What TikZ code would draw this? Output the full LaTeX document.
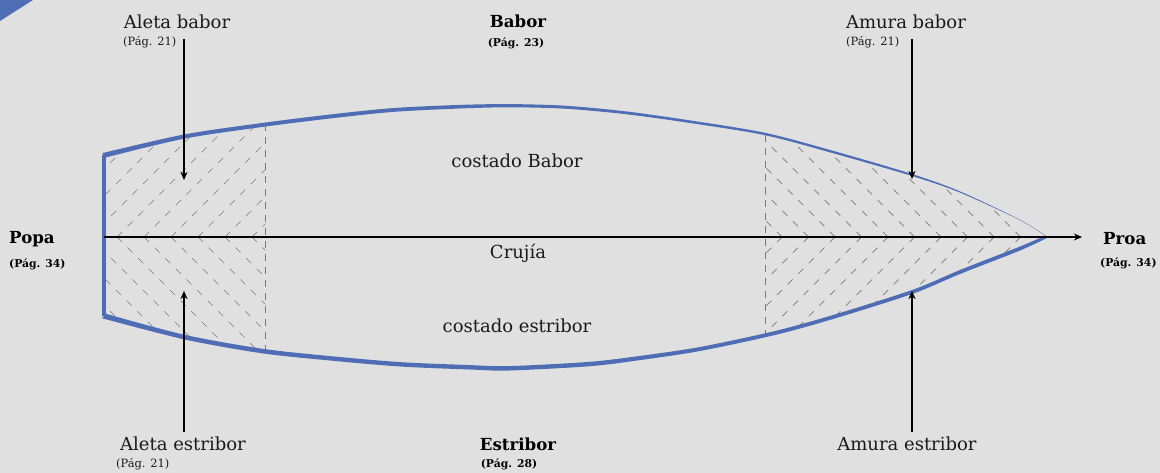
\documentclass[tikz,border=0pt]{standalone}
\usepackage{fontspec}
\setmainfont{DejaVu Serif}
\usetikzlibrary{arrows.meta}
\definecolor{bgc}{HTML}{E0E0E0}
\definecolor{hull}{HTML}{4E6DB4}
\definecolor{hatch}{HTML}{7A7A7A}
\definecolor{ink}{HTML}{1A1A1A}
\newcommand{\hullclip}{plot[smooth] coordinates {(104,155) (184,136.5) (262,125) (330,116.5) (393,110) (460,106.7) (510,105.7) (565,107.2) (625,112.7) (690,121.7) (765,134) (833,152) (912,175) (960,192) (1020,220) (1047,237)}
  -- plot[smooth] coordinates {(1047,237) (1020,248.5) (960,272) (912,292) (833,317) (775,333) (700,349) (640,358) (590,364) (510,368.3) (470,367.3) (400,364.3) (330,358.3) (262,351) (184,337) (104,316)} -- cycle}
\tikzset{
  main/.style={font=\fontsize{18}{20}\selectfont, text=ink, inner sep=0pt},
  mainb/.style={font=\fontsize{16.6}{20}\selectfont\bfseries, text=black, inner sep=0pt},
  ref/.style={font=\fontsize{11.4}{13}\selectfont, text=ink, inner sep=0pt},
  refb/.style={font=\fontsize{10.8}{13}\selectfont\bfseries, text=black, inner sep=0pt},
  hatchline/.style={hatch, line width=0.7pt, dash pattern=on 7pt off 8pt},
  sectionline/.style={hatch, line width=0.9pt, dash pattern=on 7pt off 6pt},
  pointer/.style={black, line width=1.4pt, -{Stealth[length=8pt,width=7pt,inset=2.5pt]}},
}
\begin{document}
\begin{tikzpicture}[x=1pt,y=-1pt]
\useasboundingbox (0,0) rectangle (1160,473);
\fill[bgc] (0,0) rectangle (1160,473);
\fill[hull] (0,0) -- (33,0) -- (0,21) -- cycle;

% hatching: stern, upper
\begin{scope}
\clip \hullclip;
\clip (104,100) rectangle (265,237);
\foreach \k in {-4,...,5} {\pgfmathsetmacro{\xa}{117+27*\k}
  \draw[hatchline] (\xa,237) -- (\xa+130,107);}
\end{scope}
% stern, lower
\begin{scope}
\clip \hullclip;
\clip (104,237) rectangle (265,380);
\foreach \k in {-4,...,5} {\pgfmathsetmacro{\xa}{117+27*\k}
  \draw[hatchline] (\xa,237) -- (\xa+140,377);}
\end{scope}
% bow, upper
\begin{scope}
\clip \hullclip;
\clip (765,100) rectangle (1050,237);
\foreach \k in {0,...,9} {\pgfmathsetmacro{\xa}{782+26.5*\k}
  \draw[hatchline] (\xa,237) -- (\xa-120,117);}
\end{scope}
% bow, lower
\begin{scope}
\clip \hullclip;
\clip (765,237) rectangle (1050,380);
\foreach \k in {0,...,9} {\pgfmathsetmacro{\xa}{782+26.5*\k}
  \draw[hatchline] (\xa,237) -- (\xa-120,357);}
\end{scope}

\draw[sectionline] (265,124) -- (265,352);
\draw[sectionline] (765,135) -- (765,335);

% hull outline
\fill[hull] plot[smooth] coordinates {(102,153.2) (184,134.5) (262,123) (330,114.5) (393,108.1) (460,104.9) (510,104.1) (565,105.7) (625,111.3) (690,120.4) (765,132.8) (833,150.8) (912,174) (960,191.4) (1020,219.8) (1047,236.6)}
  -- plot[smooth] coordinates {(1047,237) (1020,220.2) (960,192.6) (912,176) (833,153.2) (765,135.2) (690,123) (625,114.1) (565,108.7) (510,107.3) (460,108.5) (393,111.9) (330,118.5) (262,127) (184,138.7) (106,157.4)} -- cycle;
\fill[hull] plot[smooth] coordinates {(102,318.2) (184,339.3) (262,353.3) (330,360.5) (400,366.5) (470,369.5) (510,370.5) (590,366.2) (640,360.1) (700,351) (775,335) (833,319) (912,294) (960,274) (1020,250.5) (1049,237)}
  -- plot[smooth] coordinates {(1042,237) (1020,246.5) (960,270) (912,290) (833,315) (775,331) (700,347) (640,355.9) (590,361.8) (510,366.1) (470,365.1) (400,362.1) (330,356.1) (262,348.7) (184,334.7) (106,313.8)} -- cycle;
\draw[hull, line width=4pt] (104,155) -- (104,316);

% labels
\node[mainb,anchor=west] (popa) at (9,239) {Popa};
\node[refb,anchor=west] (popaRef) at (9,264) {(Pág. 34)};
\node[mainb,anchor=west] (proa) at (1103,239) {Proa};
\node[refb,anchor=west] (proaRef) at (1100,263) {(Pág. 34)};
\node[main] (aletaB) at (177,22) {Aleta babor};
\node[ref,anchor=west] (aletaBRef) at (123,42) {(Pág. 21)};
\node[mainb] (babor) at (518,21) {Babor};
\node[refb] (baborRef) at (516,43) {(Pág. 23)};
\node[main] (amuraB) at (906,22) {Amura babor};
\node[ref,anchor=west] (amuraBRef) at (846,42) {(Pág. 21)};
\node[main] (aletaE) at (183,444) {Aleta estribor};
\node[ref,anchor=west] (aletaERef) at (116,464) {(Pág. 21)};
\node[mainb] (estribor) at (518,444) {Estribor};
\node[refb] (estriborRef) at (509,464) {(Pág. 28)};
\node[main] (amuraE) at (907,444) {Amura estribor};
\node[main] (cB) at (517,161) {costado Babor};
\node[main] (cruj) at (518,253) {Crujía};
\node[main] (cE) at (517,326) {costado estribor};

% connectors
\coordinate (axisA) at (104,237);
\coordinate (axisB) at (1082,237);
\draw[pointer] (axisA) -- (axisB);
\coordinate (a1) at (184,39);  \coordinate (a1e) at (184,180);
\coordinate (a2) at (912,39);  \coordinate (a2e) at (912,179);
\coordinate (a3) at (184,432); \coordinate (a3e) at (184,291);
\coordinate (a4) at (912,432); \coordinate (a4e) at (912,291);
\draw[pointer] (a1) -- (a1e);
\draw[pointer] (a2) -- (a2e);
\draw[pointer] (a3) -- (a3e);
\draw[pointer] (a4) -- (a4e);
\end{tikzpicture}
\end{document}
